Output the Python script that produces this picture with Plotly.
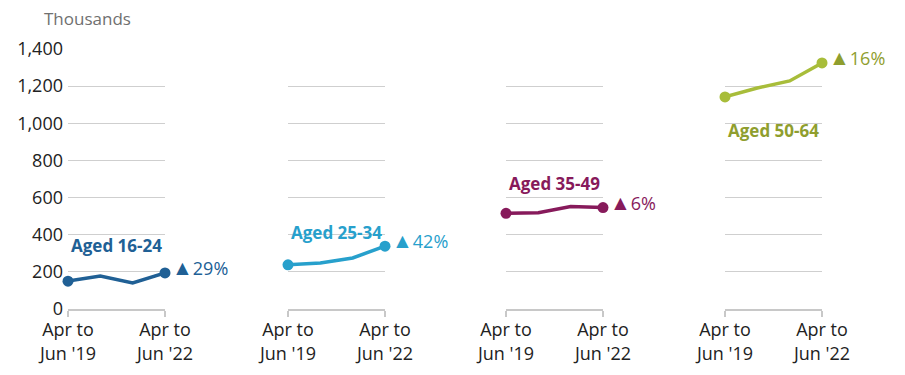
import plotly.graph_objects as go

categories = ["Apr to Jun '19", "Apr to Jun '20", "Apr to Jun '21", "Apr to Jun '22"]
tick_labels = ["Apr to<br>Jun '19", "Apr to<br>Jun '22"]
groups = ["Aged 16-24", "Aged 25-34", "Aged 35-49", "Aged 50-64"]
values_16_24 = [150, 178, 140, 194]
values_25_34 = [238, 248, 275, 338]
values_35_49 = [515, 518, 552, 546]
values_50_64 = [1142, 1190, 1228, 1325]
changes = ["29%", "42%", "6%", "16%"]
label_y = [340, 410, 678, 962]
line_colors = ["#206095", "#27a0cc", "#871a5b", "#a8bd3a"]
text_colors = ["#206095", "#27a0cc", "#871a5b", "#8f9e2e"]

series = [values_16_24, values_25_34, values_35_49, values_50_64]

fig = go.Figure()
W = 754.0
H = 260.0
starts = [0, 220, 438, 657]
width = 97

for i, vals in enumerate(series):
    xa = "x" if i == 0 else f"x{i+1}"
    ya = "y" if i == 0 else f"y{i+1}"
    fig.add_trace(go.Scatter(x=categories, y=vals, mode="lines",
                             line=dict(color=line_colors[i], width=3.5),
                             cliponaxis=False,
                             xaxis=xa, yaxis=ya, showlegend=False, hoverinfo="skip"))
    fig.add_trace(go.Scatter(x=[categories[0], categories[-1]], y=[vals[0], vals[-1]],
                             mode="markers", marker=dict(color=line_colors[i], size=11),
                             cliponaxis=False,
                             xaxis=xa, yaxis=ya, showlegend=False, hoverinfo="skip"))
    dom = [starts[i] / W, min(1.0, (starts[i] + width) / W)]
    xkey = "xaxis" if i == 0 else f"xaxis{i+1}"
    ykey = "yaxis" if i == 0 else f"yaxis{i+1}"
    fig.layout[xkey] = dict(domain=dom, type="category", categoryorder="array",
                            categoryarray=categories, range=[0, 3],
                            tickvals=[categories[0], categories[-1]], ticktext=tick_labels,
                            showgrid=False, showline=True, linecolor="#c8c8c8", linewidth=1.5,
                            ticks="outside", ticklen=6, tickcolor="#c8c8c8", tickwidth=1.5,
                            ticklabelstandoff=-2,
                            tickfont=dict(size=18, color="#222222"), anchor=ya, zeroline=False)
    ydict = dict(range=[0, 1400], tickvals=[0, 200, 400, 600, 800, 1000, 1200, 1400],
                 tickformat=",", showgrid=True, gridcolor="#cfcfcf", gridwidth=1.2,
                 zeroline=False, anchor=xa, tickfont=dict(size=18, color="#222222"),
                 ticks="", ticklabelstandoff=4)
    if i > 0:
        ydict["showticklabels"] = False
        ydict["matches"] = "y"
    fig.layout[ykey] = ydict
    fig.add_annotation(x=1.5, y=label_y[i], xref=xa, yref=ya, text=f"<b>{groups[i]}</b>",
                       showarrow=False, font=dict(size=17, color=text_colors[i]),
                       xanchor="center", yanchor="middle")
    fig.add_annotation(x=3, y=vals[-1], xref=xa, yref=ya,
                       text=f"<span style='font-size:21px'>▲</span>{changes[i]}",
                       showarrow=False, font=dict(size=18, color=text_colors[i]),
                       xanchor="left", yanchor="middle", xshift=5, yshift=6)

fig.add_annotation(x=(42 - 68) / W, y=1 + (49 - 19) / H, xref="paper", yref="paper",
                   text="Thousands", showarrow=False,
                   font=dict(size=17, color="#707070"), xanchor="left", yanchor="middle")

# page body has an 8px default margin; compensate so the plot area sits at 68..822 x 49..309
fig.update_layout(width=905, height=375,
                  margin=dict(l=60, r=91, t=41, b=74, autoexpand=False),
                  plot_bgcolor="white", paper_bgcolor="white",
                  font=dict(family="Open Sans", size=18, color="#222222"))

fig.write_html("out.html")
